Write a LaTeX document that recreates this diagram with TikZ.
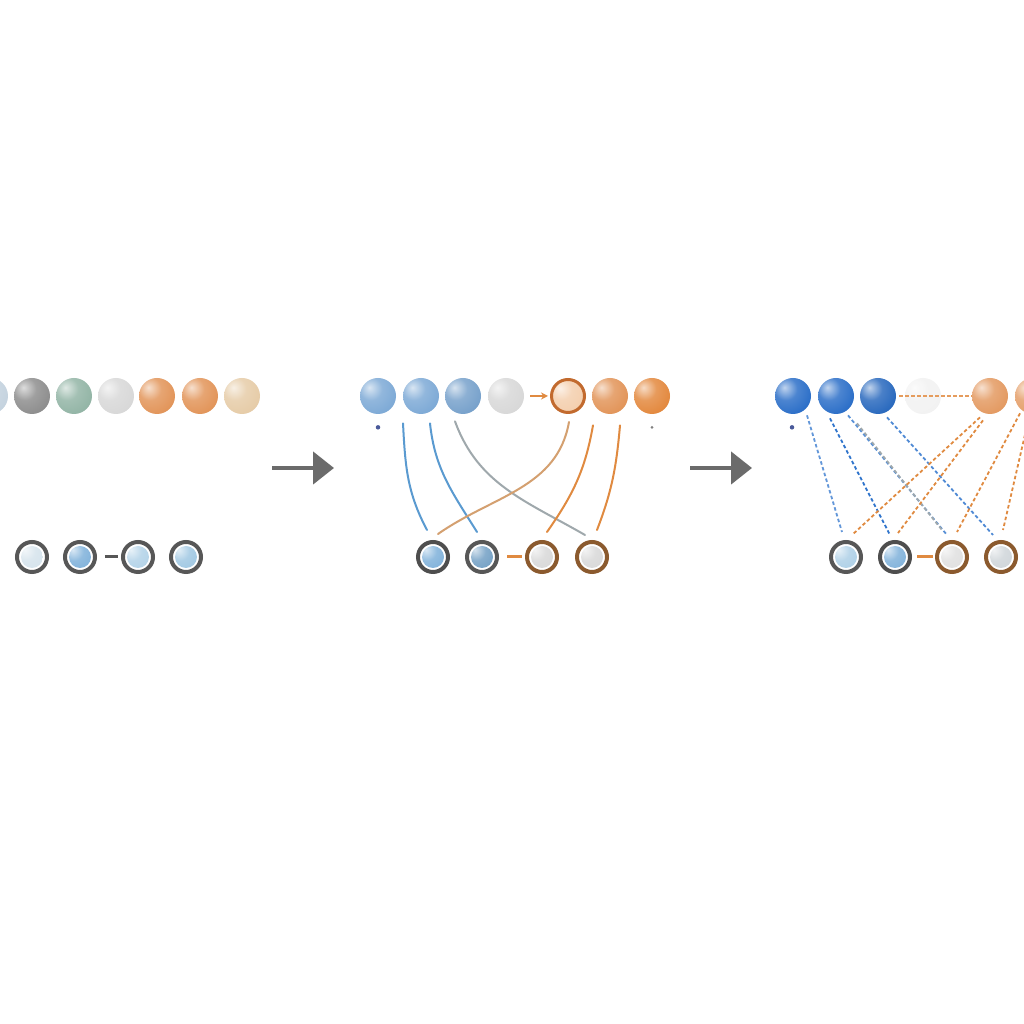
\documentclass[tikz,border=0pt]{standalone}
\usetikzlibrary{arrows.meta}
\definecolor{mistblue}{HTML}{C5D3DF}
\definecolor{stonegray}{HTML}{8E8E8E}
\definecolor{sagegreen}{HTML}{93B5A6}
\definecolor{palegray}{HTML}{D8D8D8}
\definecolor{clayorange}{HTML}{E2955A}
\definecolor{sandbeige}{HTML}{E6CCA8}
\definecolor{iceblue}{HTML}{D5E3EC}
\definecolor{skyblue}{HTML}{9FC7E2}
\definecolor{midblue}{HTML}{7FB1DA}
\definecolor{softblue}{HTML}{7EAAD6}
\definecolor{peach}{HTML}{F4CFAE}
\definecolor{rust}{HTML}{C26A2E}
\definecolor{deeporange}{HTML}{E3893F}
\definecolor{royalblue}{HTML}{2C6FC8}
\definecolor{ghostgray}{HTML}{EFEFEF}
\definecolor{ringgray}{HTML}{575757}
\definecolor{ringbrown}{HTML}{8B5A2E}
\definecolor{linkblue}{HTML}{5A9AD0}
\definecolor{linkgray}{HTML}{9FA8AC}
\definecolor{linktan}{HTML}{D4A070}
\definecolor{linkorange}{HTML}{E08A40}
\definecolor{dashblue}{HTML}{2F74CC}
\definecolor{arrowgray}{HTML}{6B6B6B}
\definecolor{dotblue}{HTML}{4A5A9A}
\colorlet{softball}{gray}
\pgfdeclareradialshading[softball]{softball}{\pgfpoint{-12bp}{12bp}}{%
  color(0bp)=(softball!30!white);
  color(16bp)=(softball!85!white);
  color(34bp)=(softball);
  color(50bp)=(softball!82!black);
  color(100bp)=(softball!75!black)}
\tikzset{
  ballnode/.style={circle, minimum size=0.72cm, inner sep=0pt,
    /utils/exec={\colorlet{softball}{#1}}, shade, shading=softball},
  ringnode/.style 2 args={circle, minimum size=0.6cm, inner sep=0pt, draw=#1, line width=0.08cm, fill=white,
    path picture={\colorlet{softball}{#2}\shade[shading=softball] (path picture bounding box.center) circle (0.22cm);}},
  link/.style={line width=0.04cm, line cap=round},
  dlink/.style={line width=0.036cm, dash pattern=on 0.07cm off 0.05cm},
  bigarrow/.style={line width=0.09cm, draw=arrowgray, -{Triangle[length=0.42cm,width=0.64cm]}},
}
\begin{document}
\begin{tikzpicture}[x=0.02cm,y=0.02cm]
  \fill[white] (0,0) rectangle (1024,1024);
  \useasboundingbox (0,0) rectangle (1024,1024);
  % first row of beads
  \node[ballnode=mistblue] (t1a) at (-10,628) {};
  \node[ballnode=stonegray] (t1b) at (32,628) {};
  \node[ballnode=sagegreen] (t1c) at (74,628) {};
  \node[ballnode=palegray] (t1d) at (116,628) {};
  \node[ballnode=clayorange] (t1e) at (157,628) {};
  \node[ballnode=clayorange] (t1f) at (200,628) {};
  \node[ballnode=sandbeige] (t1g) at (242,628) {};
  \node[ringnode={ringgray}{iceblue}] (b1a) at (32,467) {};
  \node[ringnode={ringgray}{midblue}] (b1b) at (80,467) {};
  \node[ringnode={ringgray}{skyblue!80!white}] (b1c) at (138,467) {};
  \node[ringnode={ringgray}{skyblue}] (b1d) at (186,467) {};
  \draw[line width=0.06cm, ringgray, shorten <=0.16cm, shorten >=0.06cm] (b1b) -- (b1c);
  \coordinate (a1s) at (272,556);
  \coordinate (a1e) at (334,556);
  \draw[bigarrow] (a1s) -- (a1e);
  % second row
  \node[ballnode=softblue] (t2a) at (378,628) {};
  \node[ballnode=softblue] (t2b) at (421,628) {};
  \node[ballnode=softblue!95!black] (t2c) at (463,628) {};
  \node[ballnode=palegray] (t2d) at (506,628) {};
  \node[ballnode=peach, draw=rust, line width=0.06cm, minimum size=0.66cm] (t2e) at (568,628) {};
  \node[ballnode=clayorange] (t2f) at (610,628) {};
  \node[ballnode=deeporange] (t2g) at (652,628) {};
  \node[ringnode={ringgray!90!black}{midblue}] (b2a) at (433,467) {};
  \node[ringnode={ringgray}{midblue!90!black}] (b2b) at (482,467) {};
  \node[ringnode={ringbrown}{palegray}] (b2c) at (542,467) {};
  \node[ringnode={ringbrown}{palegray}] (b2d) at (592,467) {};
  \fill[dotblue] ([yshift=-0.26cm]t2a.south) circle (0.045cm);
  \fill[gray] ([yshift=-0.26cm]t2g.south) circle (0.03cm);
  \draw[-{Stealth[length=0.14cm,width=0.14cm]}, line width=0.04cm, linkorange, shorten <=0.12cm, shorten >=0.04cm] (t2d.east) -- (t2e.west);
  \draw[line width=0.06cm, linkorange, shorten <=0.16cm, shorten >=0.06cm] (b2b) -- (b2c);
  \draw[link, linkblue] ([shift={(-18,-9)}]t2b.south) to[out=-87,in=118] ([shift={(-6,10)}]b2a.north);
  \draw[link, linkblue] ([shift={(9,-9)}]t2b.south) to[out=-84,in=122] ([shift={(-5,8)}]b2b.north);
  \draw[link, linkgray] ([shift={(-8,-7)}]t2c.south) to[out=-70,in=150] ([shift={(-7,5)}]b2d.north);
  \draw[link, linktan] ([shift={(1,-8)}]t2e.south) to[out=-100,in=35] ([shift={(5,6)}]b2a.north);
  \draw[link, linkorange] ([shift={(-17,-11)}]t2f.south) to[out=-100,in=55] ([shift={(5,8)}]b2c.north);
  \draw[link, linkorange] ([shift={(10,-11)}]t2f.south) to[out=-95,in=69] ([shift={(5,10)}]b2d.north);
  \coordinate (a2s) at (690,556);
  \coordinate (a2e) at (752,556);
  \draw[bigarrow] (a2s) -- (a2e);
  % third row
  \node[ballnode=royalblue] (t3a) at (793,628) {};
  \node[ballnode=royalblue] (t3b) at (836,628) {};
  \node[ballnode=royalblue!95!black] (t3c) at (878,628) {};
  \node[ballnode=ghostgray, opacity=0.8] (t3d) at (923,628) {};
  \node[ballnode=clayorange!95!white] (t3e) at (990,628) {};
  \node[ballnode=clayorange!90!white] (t3f) at (1033,628) {};
  \node[ringnode={ringgray}{skyblue!85!white}] (b3a) at (846,467) {};
  \node[ringnode={ringgray!90!black}{midblue}] (b3b) at (895,467) {};
  \node[ringnode={ringbrown}{palegray!80!white}] (b3c) at (952,467) {};
  \node[ringnode={ringbrown}{palegray!85!skyblue}] (b3d) at (1001,467) {};
  \fill[dotblue] ([shift={(-1,-13)}]t3a.south) circle (0.045cm);
  \draw[dlink, linkorange!85!white, shorten <=0.06cm] (t3c.east) -- (t3e.west);
  \draw[line width=0.06cm, linkorange, shorten <=0.1cm, shorten >=0.04cm] (b3b) -- (b3c);
  \draw[dlink, dashblue!75!white] ([shift={(14,-1)}]t3a.south) -- ([shift={(-4,8)}]b3a.north);
  \draw[dlink, dashblue] ([shift={(-6,-4)}]t3b.south) -- ([shift={(-5,5)}]b3b.north);
  \draw[dlink, dashblue!80!white] ([shift={(12,-1)}]t3b.south) -- ([shift={(-5,5)}]b3c.north);
  \draw[dlink, linkgray] ([shift={(-21,-9)}]t3c.south) -- ([shift={(-10,10)}]b3c.north);
  \draw[dlink, dashblue!85!white] ([shift={(9,-3)}]t3c.south) -- ([shift={(-8,5)}]b3d.north);
  \draw[dlink, linkorange] ([shift={(-10,-3)}]t3e.south) -- ([shift={(6,5)}]b3a.north);
  \draw[dlink, linkorange] ([shift={(-7,-6)}]t3e.south) -- ([shift={(3,7)}]b3b.north);
  \draw[dlink, linkorange] ([shift={(-13,1)}]t3f.south) -- ([shift={(5,8)}]b3c.north);
  \draw[dlink, linkorange] ([shift={(-4,-3)}]t3f.south) -- ([shift={(2,10)}]b3d.north);
\end{tikzpicture}
\end{document}
